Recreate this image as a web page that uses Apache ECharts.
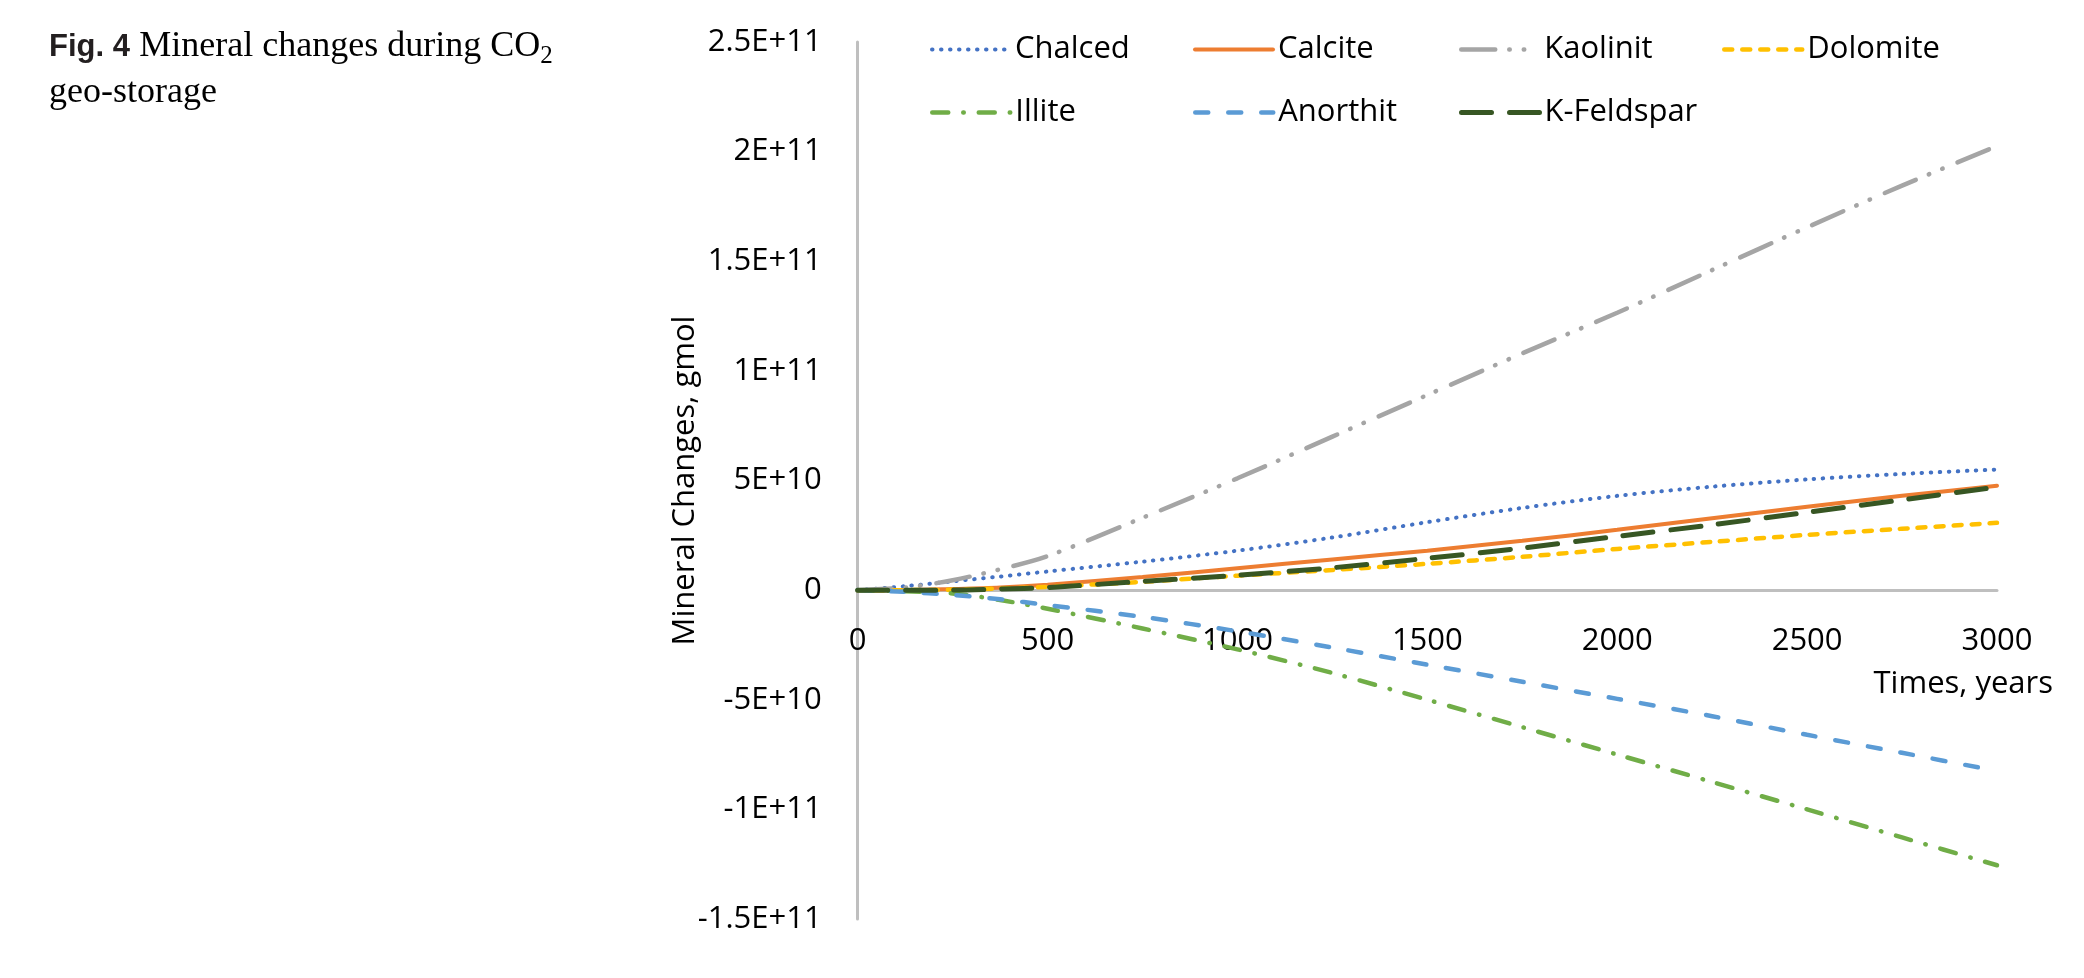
<!DOCTYPE html>
<html>
<head>
<meta charset="utf-8">
<script src="https://cdn.jsdelivr.net/npm/echarts@6/dist/echarts.min.js"></script>
<style>
html,body{margin:0;padding:0;background:#fff;}
#chart{width:2084px;height:978px;}
</style>
</head>
<body>
<div id="chart"></div>
<script>
// Time in years
const years = [0, 125, 250, 375, 500, 750, 1000, 1250, 1500, 1750, 2000, 2250, 2500, 2750, 3000];
// Mineral changes in units of 1E+10 gmol
const chalced   = [0, 0.18, 0.40, 0.62, 0.85, 1.30, 1.80, 2.40, 3.10, 3.75, 4.30, 4.72, 5.05, 5.30, 5.50];
const calcite   = [0, 0.00, 0.05, 0.12, 0.25, 0.60, 1.00, 1.40, 1.80, 2.25, 2.75, 3.28, 3.80, 4.30, 4.76];
const kaolinit  = [0, 0.12, 0.45, 0.95, 1.55, 3.30, 5.10, 7.00, 8.90, 10.80, 12.65, 14.60, 16.55, 18.45, 20.25];
const dolomite  = [0, 0.00, 0.02, 0.07, 0.15, 0.38, 0.66, 0.92, 1.20, 1.52, 1.88, 2.20, 2.52, 2.80, 3.07];
const illite    = [0, -0.05, -0.15, -0.45, -0.85, -1.75, -2.70, -3.78, -5.00, -6.25, -7.50, -8.75, -10.00, -11.28, -12.55];
const anorthit  = [0, -0.08, -0.22, -0.42, -0.68, -1.22, -1.88, -2.62, -3.40, -4.18, -4.96, -5.75, -6.60, -7.42, -8.25];
const kfeldspar = [0, 0.00, 0.00, 0.05, 0.12, 0.40, 0.68, 1.02, 1.45, 1.92, 2.45, 2.98, 3.55, 4.12, 4.70];

const seriesNames = ['Chalced', 'Calcite', 'Kaolinit', 'Dolomite', 'Illite', 'Anorthit', 'K-Feldspar'];
const yTickLabels = ['-1.5E+11', '-1E+11', '-5E+10', '0', '5E+10', '1E+11', '1.5E+11', '2E+11', '2.5E+11'];
const xTickLabels = ['0', '500', '1000', '1500', '2000', '2500', '3000'];

const FONT = 'Open Sans';
const pair = arr => years.map((t, i) => [t, arr[i]]);

const styles = {
  'Chalced':    {color: '#4472C4', width: 4,   type: [0.5, 8.5]},
  'Calcite':    {color: '#ED7D31', width: 4,   type: 'solid'},
  'Kaolinit':   {color: '#A5A5A5', width: 4.5, type: [34, 14, 0.5, 14, 0.5, 16]},
  'Dolomite':   {color: '#FFC000', width: 4.5, type: [8, 10]},
  'Illite':     {color: '#70AD47', width: 4.5, type: [16, 15, 0.5, 15]},
  'Anorthit':   {color: '#5B9BD5', width: 4.5, type: [13, 20]},
  'K-Feldspar': {color: '#375623', width: 5,   type: [30, 18]}
};
const dataMap = {
  'Chalced': chalced, 'Calcite': calcite, 'Kaolinit': kaolinit, 'Dolomite': dolomite,
  'Illite': illite, 'Anorthit': anorthit, 'K-Feldspar': kfeldspar
};

const legendPos = [
  [930, 34], [1193, 34], [1459, 34], [1722, 34],
  [930, 97], [1193, 97], [1459, 97]
];

const GRID_TOP = 42, GRID_BOTTOM = 59, CH = 978;
const zeroOffset = -((CH - GRID_BOTTOM) - (GRID_TOP + (CH - GRID_TOP - GRID_BOTTOM) * 25 / 40));

const chart = echarts.init(document.getElementById('chart'));
chart.setOption({
  backgroundColor: '#fff',
  animation: false,
  textStyle: {fontFamily: FONT},
  title: {
    left: 44, top: 19,
    text: '{b|Fig. 4}  {n|Mineral changes during CO}{s|2}\n{n|geo-storage}',
    textStyle: {
      fontWeight: 'normal',
      rich: {
        b: {fontFamily: 'Liberation Sans', fontWeight: 'bold', fontSize: 31, color: '#231F20', lineHeight: 46},
        n: {fontFamily: 'Liberation Serif', fontWeight: 'normal', fontSize: 36, color: '#000', lineHeight: 46},
        s: {fontFamily: 'Liberation Serif', fontWeight: 'normal', fontSize: 25, color: '#000', lineHeight: 46, padding: [18, 0, 0, 0]}
      }
    }
  },
  legend: seriesNames.map((n, i) => ({
    data: [n],
    left: legendPos[i][0], top: legendPos[i][1],
    padding: 0,
    itemWidth: 78, itemHeight: 14,
    itemStyle: {color: 'rgba(0,0,0,0)', borderWidth: 0, opacity: 0},
    lineStyle: {color: styles[n].color, width: styles[n].width, type: styles[n].type, cap: 'round'},
    textStyle: {fontFamily: FONT, fontSize: 31, color: '#000'},
    selectedMode: false
  })),
  grid: {left: 857.7, right: 87, top: GRID_TOP, bottom: GRID_BOTTOM},
  xAxis: {
    type: 'value', min: 0, max: 3000, interval: 500,
    offset: zeroOffset,
    axisLine: {onZero: false, lineStyle: {color: '#BFBFBF', width: 3}},
    axisTick: {show: false},
    splitLine: {show: false},
    axisLabel: {
      fontFamily: FONT, fontSize: 31, color: '#000', margin: 36,
      formatter: (v) => xTickLabels[Math.round(v / 500)]
    }
  },
  yAxis: {
    type: 'value', min: -15, max: 25, interval: 5,
    name: 'Mineral Changes, gmol', nameLocation: 'middle', nameGap: 157, nameRotate: 90,
    nameMoveOverlap: false,
    nameTextStyle: {fontFamily: FONT, fontSize: 31, color: '#000'},
    axisLine: {show: true, onZero: false, lineStyle: {color: '#BFBFBF', width: 3}},
    axisTick: {show: false},
    splitLine: {show: false},
    axisLabel: {
      fontFamily: FONT, fontSize: 31, color: '#000', margin: 36,
      formatter: (v) => yTickLabels[Math.round((v + 15) / 5)]
    }
  },
  graphic: [{
    type: 'text', right: 31, top: 669,
    style: {text: 'Times, years', font: '31px "Open Sans"', fill: '#000'}
  }],
  series: seriesNames.map(n => ({
    name: n, type: 'line', smooth: 0.3, symbol: 'none',
    data: pair(dataMap[n]),
    lineStyle: {color: styles[n].color, width: styles[n].width, type: styles[n].type, cap: 'round'},
    itemStyle: {color: styles[n].color}
  }))
});
</script>
</body>
</html>
